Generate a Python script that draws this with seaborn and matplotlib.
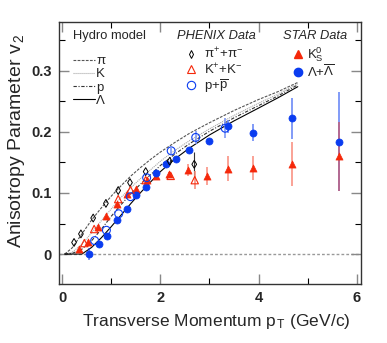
"""v2 vs pT: hydro model curves with PHENIX and STAR identified-particle data."""

import numpy as np
import pandas as pd
import matplotlib
matplotlib.use('Agg')
import matplotlib.pyplot as plt
from matplotlib.lines import Line2D
import seaborn as sns

# Hydro model curves
hydro_pt = [0.05, 0.2, 0.4, 0.6, 0.8, 1.0, 1.2, 1.4, 1.6, 1.8, 2.0, 2.3, 2.6, 3.0, 3.5, 4.0, 4.4, 4.8]
hydro_pi = [0.0, 0.010, 0.033, 0.056, 0.076, 0.095, 0.112, 0.128, 0.142, 0.155, 0.167, 0.183, 0.198, 0.215, 0.235, 0.253, 0.266, 0.281]
hydro_k = [0.0, 0.003, 0.016, 0.035, 0.055, 0.074, 0.093, 0.109, 0.124, 0.138, 0.152, 0.170, 0.186, 0.205, 0.227, 0.247, 0.262, 0.279]
hydro_p = [0.0, 0.001, 0.008, 0.022, 0.041, 0.062, 0.081, 0.099, 0.115, 0.130, 0.145, 0.164, 0.181, 0.201, 0.223, 0.243, 0.259, 0.277]
hydro_lam = [0.0, 0.0, 0.0, 0.011, 0.027, 0.045, 0.064, 0.083, 0.101, 0.118, 0.135, 0.156, 0.174, 0.195, 0.218, 0.239, 0.256, 0.274]

# PHENIX data
phx_pi_pt = [0.24, 0.38, 0.63, 0.89, 1.14, 1.38, 1.70, 2.19, 2.69]
phx_pi_v2 = [0.019, 0.033, 0.059, 0.083, 0.104, 0.117, 0.135, 0.152, 0.147]
phx_pi_err = [0, 0, 0, 0, 0, 0, 0, 0.004, 0.02]
phx_k_pt = [0.45, 0.65, 1.14, 1.39, 1.70, 2.21, 2.70]
phx_k_v2 = [0.018, 0.041, 0.090, 0.105, 0.121, 0.128, 0.121]
phx_k_err = [0, 0, 0, 0, 0, 0.004, 0.015]
phx_p_pt = [0.66, 0.90, 1.15, 1.39, 1.72, 2.22, 2.72, 3.32]
phx_p_v2 = [0.022, 0.039, 0.066, 0.094, 0.125, 0.169, 0.191, 0.206]
phx_p_err = [0, 0, 0, 0, 0, 0.005, 0.01, 0.016]

# STAR data
star_k0_pt = [0.35, 0.53, 0.73, 0.90, 1.11, 1.31, 1.51, 1.72, 1.91, 2.18, 2.57, 2.95, 3.37, 3.89, 4.69, 5.64]
star_k0_v2 = [0.008, 0.020, 0.044, 0.062, 0.082, 0.098, 0.107, 0.121, 0.127, 0.131, 0.137, 0.128, 0.140, 0.141, 0.147, 0.160]
star_k0_err = [0, 0, 0, 0, 0, 0, 0, 0, 0, 0.004, 0.01, 0.015, 0.021, 0.02, 0.036, 0.057]
star_lam_pt = [0.55, 0.74, 0.92, 1.12, 1.32, 1.51, 1.71, 1.92, 2.11, 2.31, 2.58, 2.99, 3.38, 3.89, 4.69, 5.65]
star_lam_v2 = [0.0, 0.017, 0.029, 0.055, 0.073, 0.096, 0.110, 0.133, 0.147, 0.156, 0.171, 0.185, 0.209, 0.199, 0.222, 0.184]
star_lam_err = [0.01, 0, 0, 0, 0, 0, 0, 0, 0, 0, 0, 0.004, 0.01, 0.014, 0.034, 0.081]

RED = '#f5280a'
BLUE = '#0a3cf0'

sns.set_style('ticks')
plt.rcParams['font.family'] = ['Liberation Sans', 'DejaVu Sans']
plt.rcParams['mathtext.fontset'] = 'custom'
plt.rcParams['mathtext.rm'] = 'Liberation Sans'
plt.rcParams['mathtext.it'] = 'Liberation Sans'
plt.rcParams['mathtext.bf'] = 'Liberation Sans:bold'

fig = plt.figure(figsize=(3.87, 3.43), dpi=100)
ax = fig.add_axes([0.152, 0.172, 0.781, 0.764])

hydro = pd.DataFrame({'pt': hydro_pt, 'pi': hydro_pi, 'K': hydro_k, 'p': hydro_p, 'Lam': hydro_lam})
styles = {'pi': ('#555555', (0, (2.5, 1.2))), 'K': ('#aaaaaa', (0, (1, 0.8))),
          'p': ('#333333', (0, (3, 1.5, 1, 1.5))), 'Lam': ('black', '-')}
for col, (c, ls) in styles.items():
    sns.lineplot(data=hydro, x='pt', y=col, ax=ax, color=c, linestyle=ls, lw=0.8,
                 sort=False, estimator=None, legend=False)

ax.axhline(0, color='#999999', lw=1.0, ls=(0, (2, 1.5)), zorder=0)

# error bars first so markers sit on top
ax.errorbar(star_lam_pt, star_lam_v2, yerr=star_lam_err, fmt='none', ecolor=BLUE, elinewidth=1.2, alpha=0.6)
ax.errorbar(star_k0_pt, star_k0_v2, yerr=star_k0_err, fmt='none', ecolor=RED, elinewidth=1.2, alpha=0.5)
ax.errorbar(phx_pi_pt, phx_pi_v2, yerr=phx_pi_err, fmt='none', ecolor='#333333', elinewidth=0.8)
ax.errorbar(phx_k_pt, phx_k_v2, yerr=phx_k_err, fmt='none', ecolor='#f59080', elinewidth=1.2)
ax.errorbar(phx_p_pt, phx_p_v2, yerr=phx_p_err, fmt='none', ecolor='#8099f5', elinewidth=1.2)

sns.scatterplot(x=star_k0_pt, y=star_k0_v2, ax=ax, marker='^', s=26, color=RED, edgecolor=RED, linewidth=0.5, zorder=4)
sns.scatterplot(x=star_lam_pt, y=star_lam_v2, ax=ax, marker='o', s=26, color=BLUE, edgecolor=BLUE, linewidth=0.5, zorder=4)
sns.scatterplot(x=phx_pi_pt, y=phx_pi_v2, ax=ax, marker='d', s=16, facecolor='none', edgecolor='black', linewidth=0.7, zorder=5)
sns.scatterplot(x=phx_k_pt, y=phx_k_v2, ax=ax, marker='^', s=28, facecolor='none', edgecolor=RED, linewidth=0.8, zorder=5)
sns.scatterplot(x=phx_p_pt, y=phx_p_v2, ax=ax, marker='o', s=32, facecolor='none', edgecolor=BLUE, linewidth=0.8, zorder=5)

ax.set_xlim(-0.07, 6.09)
ax.set_ylim(-0.049, 0.38)
ax.set_xticks([0, 2, 4, 6])
ax.set_xticks([1, 3, 5], minor=True)
ax.set_yticks([0, 0.1, 0.2, 0.3])
ax.set_yticklabels(['0', '0.1', '0.2', '0.3'])
ax.set_yticks([0.05, 0.15, 0.25, 0.35], minor=True)
ax.tick_params(which='major', direction='in', length=7, width=1.0, color='#888888',
               top=True, right=True, labelsize=10.5, pad=5)
ax.tick_params(which='minor', direction='in', length=4, width=0.8, color='black', top=True, right=True)
for lab in ax.get_xticklabels() + ax.get_yticklabels():
    lab.set_fontweight('bold')
for s in ax.spines.values():
    s.set_linewidth(1.0)
    s.set_color('#333333')

ax.set_xlabel(r'Transverse Momentum p$_{\,T}$ (GeV/c)', fontsize=12.5)
ax.set_ylabel(r'Anisotropy Parameter v$_{\,2}$', fontsize=14)
ax.xaxis.set_label_coords(0.52, -0.108)
ax.yaxis.set_label_coords(-0.105, 0.546)

# legend headers
ax.text(0.046, 0.945, 'Hydro model', transform=ax.transAxes, fontsize=9.3, va='center', ha='left')
ax.text(0.391, 0.945, 'PHENIX Data', transform=ax.transAxes, fontsize=9.3, style='italic', va='center', ha='left')
ax.text(0.742, 0.945, 'STAR Data', transform=ax.transAxes, fontsize=9.3, style='italic', va='center', ha='left')

hydro_handles = [Line2D([], [], color=c, ls=ls, lw=0.8) for c, ls in styles.values()]
leg1 = ax.legend(hydro_handles, ['π', 'K', 'p', 'Λ'], loc='upper left',
                 bbox_to_anchor=(0.046, 0.874), frameon=False, fontsize=9.5,
                 handlelength=1.67, handletextpad=0.1, labelspacing=0.08,
                 borderaxespad=0, borderpad=0)
ax.add_artist(leg1)

phx_handles = [Line2D([], [], ls='none', marker='d', ms=4, mfc='none', mec='black', mew=0.7),
               Line2D([], [], ls='none', marker='^', ms=5.5, mfc='none', mec=RED, mew=0.8),
               Line2D([], [], ls='none', marker='o', ms=6, mfc='none', mec=BLUE, mew=0.8)]
leg2 = ax.legend(phx_handles, [r'$\pi^{+}$+$\pi^{-}$', r'K$^{+}$+K$^{-}$', r'p+$\overline{\rm p}$'],
                 loc='upper left', bbox_to_anchor=(0.415, 0.908), frameon=False, fontsize=9.5,
                 handlelength=1.0, handletextpad=0.5, labelspacing=0.05,
                 borderaxespad=0, borderpad=0)
ax.add_artist(leg2)

star_handles = [Line2D([], [], ls='none', marker='^', ms=5.5, color=RED),
                Line2D([], [], ls='none', marker='o', ms=6, color=BLUE)]
ax.legend(star_handles, [r'K$^{0}_{S}$', r'$\Lambda$+$\overline{\Lambda}$'],
          loc='upper left', bbox_to_anchor=(0.778, 0.912), frameon=False, fontsize=9.5,
          handlelength=0.6, handletextpad=0.4, labelspacing=0.0,
          borderaxespad=0, borderpad=0)

fig.savefig('out.png', dpi=100)
print('Saved: out.png')
